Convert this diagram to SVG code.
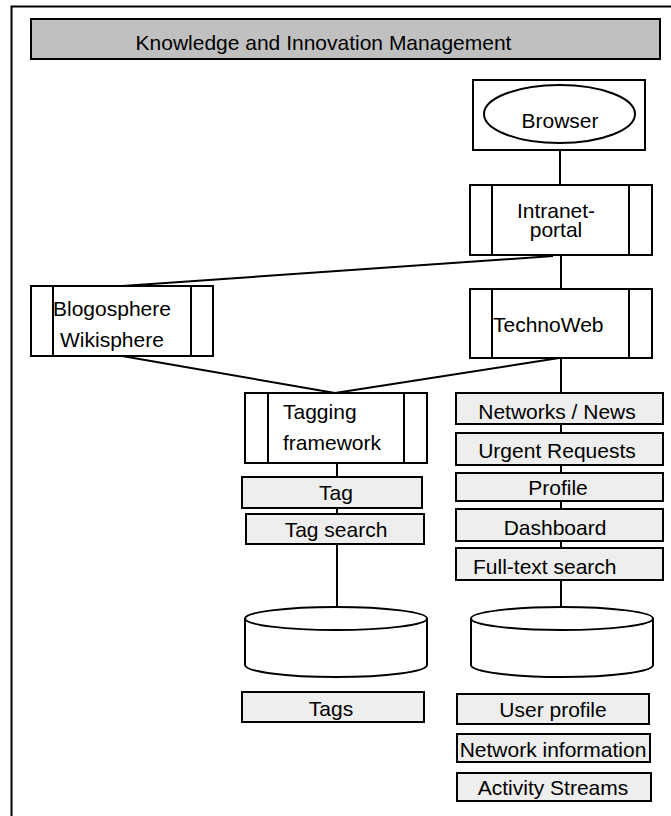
<svg xmlns="http://www.w3.org/2000/svg" width="671" height="816" viewBox="0 0 671 816">
<style>
.s{fill:#fff;stroke:#000;stroke-width:2}
.g{fill:#eeeeee;stroke:#000;stroke-width:2}
.l{fill:none;stroke:#000;stroke-width:2}
text{font-family:"Liberation Sans",Arial,sans-serif;font-size:21px;fill:#000}
.m{text-anchor:middle}
</style>
<rect x="0" y="0" width="671" height="816" fill="#fff"/>
<rect x="11.5" y="6.5" width="680" height="830" class="l"/>
<g id="title">
<rect x="31" y="19" width="629" height="40" fill="#c0c0c0" stroke="#000" stroke-width="2"/>
<text x="323.5" y="50" class="m">Knowledge and Innovation Management</text>
</g>
<g id="connectors">
<line x1="560" y1="150" x2="560" y2="185" class="l"/>
<line x1="553" y1="256" x2="122" y2="286" class="l"/>
<line x1="561" y1="255" x2="561" y2="289" class="l"/>
<line x1="122" y1="356" x2="335" y2="393" class="l"/>
<line x1="559" y1="358" x2="335" y2="393" class="l"/>
<line x1="561" y1="358" x2="561" y2="607" class="l"/>
<line x1="337" y1="463" x2="337" y2="607" class="l"/>
</g>
<g id="browser">
<rect x="473" y="80" width="172" height="70" class="s"/>
<ellipse cx="559.5" cy="114" rx="75.5" ry="29" class="s"/>
<text x="560" y="128" class="m">Browser</text>
</g>
<g id="intranet">
<rect x="470" y="185" width="182" height="70" class="s"/>
<line x1="492" y1="185" x2="492" y2="255" class="l"/>
<line x1="629" y1="185" x2="629" y2="255" class="l"/>
<text x="556" y="218" class="m">Intranet-</text>
<text x="556" y="237" class="m">portal</text>
</g>
<g id="blogosphere">
<rect x="31" y="286" width="182" height="70" class="s"/>
<line x1="53" y1="286" x2="53" y2="356" class="l"/>
<line x1="191" y1="286" x2="191" y2="356" class="l"/>
<text x="53" y="316">Blogosphere</text>
<text x="60" y="347">Wikisphere</text>
</g>
<g id="technoweb">
<rect x="470" y="289" width="182" height="69" class="s"/>
<line x1="492" y1="289" x2="492" y2="358" class="l"/>
<line x1="629" y1="289" x2="629" y2="358" class="l"/>
<text x="493" y="332">TechnoWeb</text>
</g>
<g id="tagging">
<rect x="245" y="393" width="182" height="70" class="s"/>
<line x1="268" y1="393" x2="268" y2="463" class="l"/>
<line x1="404" y1="393" x2="404" y2="463" class="l"/>
<text x="283" y="419">Tagging</text>
<text x="283" y="450">framework</text>
</g>
<g id="tag">
<rect x="242" y="477" width="180" height="31" class="g"/>
<text x="336" y="500" class="m">Tag</text>
</g>
<g id="tagsearch">
<rect x="246" y="514" width="178" height="30" class="g"/>
<text x="336" y="537" class="m">Tag search</text>
</g>
<g id="networks">
<rect x="456" y="393" width="207" height="31" class="g"/>
<text x="557" y="419" class="m">Networks / News</text>
</g>
<g id="urgent">
<rect x="456" y="433" width="207" height="32" class="g"/>
<text x="557" y="458" class="m">Urgent Requests</text>
</g>
<g id="profile">
<rect x="456" y="473" width="207" height="28" class="g"/>
<text x="558" y="495" class="m">Profile</text>
</g>
<g id="dashboard">
<rect x="456" y="509" width="207" height="32" class="g"/>
<text x="555" y="535" class="m">Dashboard</text>
</g>
<g id="fulltext">
<rect x="456" y="548" width="207" height="32" class="g"/>
<text x="473" y="574">Full-text search</text>
</g>
<g id="db-tags">
<path d="M245,618.5 L245,665 A91,12 0 0 0 427,665 L427,618.5 A91,11.5 0 0 0 245,618.5 Z" class="s"/>
<path d="M245,618.5 A91,11.5 0 0 0 427,618.5" class="l"/>
</g>
<g id="db-techno">
<path d="M471,618.5 L471,665 A91,12 0 0 0 653,665 L653,618.5 A91,11.5 0 0 0 471,618.5 Z" class="s"/>
<path d="M471,618.5 A91,11.5 0 0 0 653,618.5" class="l"/>
</g>
<g id="tags">
<rect x="242" y="692" width="182" height="30" class="g"/>
<text x="331" y="716" class="m">Tags</text>
</g>
<g id="userprofile">
<rect x="457" y="694" width="192" height="30" class="g"/>
<text x="553" y="717" class="m">User profile</text>
</g>
<g id="netinfo">
<rect x="457" y="734" width="193" height="28" class="g"/>
<text x="553" y="757" class="m">Network information</text>
</g>
<g id="activity">
<rect x="457" y="773" width="194" height="28" class="g"/>
<text x="553" y="795" class="m">Activity Streams</text>
</g>
</svg>
